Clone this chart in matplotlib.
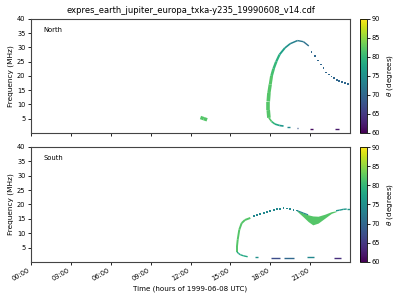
import numpy as np
import matplotlib
matplotlib.use("Agg")
import matplotlib.pyplot as plt
from matplotlib.collections import LineCollection
from matplotlib.colors import Normalize

title = "expres_earth_jupiter_europa_txka-y235_19990608_v14.cdf"
hour_ticks = [0, 3, 6, 9, 12, 15, 18, 21]
hour_labels = ["00:00", "03:00", "06:00", "09:00", "12:00", "15:00", "18:00", "21:00"]
freq_ticks = [5, 10, 15, 20, 25, 30, 35, 40]
theta_ticks = [60, 65, 70, 75, 80, 85, 90]

# North hemisphere: main arc (time h, freq MHz, theta deg, width)
n_arc_t = [17.9, 17.85, 17.85, 17.9, 18.0, 18.1, 18.25, 18.45, 18.7, 19.1, 19.5, 20.05, 20.5, 20.9]
n_arc_f = [5.3, 8, 11, 14, 17, 20, 22.5, 25, 27.5, 29.8, 31.3, 32.4, 32.0, 30.5]
n_arc_theta = [82, 82, 82, 82, 82, 81, 80, 79, 77, 75, 73, 72, 71, 70]
n_arc_w = [2.6, 2.6, 2.6, 2.4, 2.2, 2.0, 1.8, 1.6, 1.4, 1.2, 1.1, 1.0, 1.0, 0.9]

n_dots_t = [21.1, 21.35, 21.6, 21.8, 22.0, 22.2, 22.4, 22.6, 22.8, 23.0, 23.2, 23.4, 23.6, 23.85]
n_dots_f = [28.5, 27.0, 25.4, 24.0, 22.7, 21.2, 20.5, 19.8, 19.2, 18.6, 18.2, 17.8, 17.4, 17.1]
n_dots_theta = 70

n_tail_t = [17.9, 18.1, 18.35, 18.7, 19.0]
n_tail_f = [5.3, 4.0, 3.1, 2.6, 2.4]
n_tail_theta = [82, 80, 78, 76, 75]

n_blob_t = [12.75, 13.0, 13.25]
n_blob_f = [5.4, 5.0, 4.6]
n_blob_theta = 82

# dashes: (start h, end h, freq, theta)
n_dashes = [(19.25, 19.5, 2.1, 74), (20.0, 20.12, 1.8, 68), (21.0, 21.25, 1.5, 61), (22.85, 23.2, 1.2, 62)]

# South hemisphere
s_left_t = [15.5, 15.5, 15.55, 15.67, 15.85, 16.1, 16.5]
s_left_f = [3.5, 5.5, 7.7, 11.2, 13.5, 14.6, 15.3]
s_left_theta = 82

s_top_t = [16.8, 17.0, 17.25, 17.5, 17.75, 18.0, 18.25, 18.5, 18.75, 19.0, 19.25, 19.5, 19.75, 20.0]
s_top_f = [15.9, 16.3, 16.8, 17.1, 17.5, 17.8, 18.1, 18.3, 18.5, 18.7, 18.6, 18.4, 18.2, 17.9]
s_top_theta = 74

s_dip_t = [20.0, 20.5, 20.85, 21.2, 21.6, 22.1, 22.6, 22.95]
s_dip_hi = [17.9, 17.0, 16.4, 16.0, 15.9, 16.6, 17.5, 17.8]
s_dip_lo = [17.7, 15.6, 14.05, 12.9, 13.5, 15.2, 16.9, 17.5]
s_dip_theta = 82

s_right_t = [22.95, 23.2, 23.5, 23.75, 24.0]
s_right_f = [17.8, 18.0, 18.3, 18.4, 18.4]
s_right_theta = 76

s_tail_t = [15.5, 15.6, 15.75, 16.0, 16.3]
s_tail_f = [3.5, 3.0, 2.5, 2.1, 1.8]
s_tail_theta = 78

s_dashes = [(16.85, 17.05, 1.6, 75), (18.05, 18.7, 1.3, 67), (19.0, 19.8, 1.3, 70),
            (20.8, 21.3, 1.6, 74), (22.8, 23.35, 1.3, 64)]

cmap = plt.get_cmap("viridis")
norm = Normalize(vmin=60, vmax=90)


def draw_curve(ax, t, f, theta, width):
    pts = np.column_stack([t, f])
    segs = np.stack([pts[:-1], pts[1:]], axis=1)
    th = np.broadcast_to(np.asarray(theta, dtype=float), (len(t),))
    w = np.broadcast_to(np.asarray(width, dtype=float), (len(t),))
    lc = LineCollection(segs, colors=cmap(norm(th[:-1])), linewidths=w[:-1], capstyle="butt")
    ax.add_collection(lc)


def draw_dashes(ax, dashes):
    for t0, t1, f, th in dashes:
        ax.plot([t0, t1], [f, f], color=cmap(norm(th)), lw=1.0, solid_capstyle="butt")


fig = plt.figure(figsize=(4, 3), dpi=100)
ax1 = fig.add_axes([0.0775, 0.557, 0.7975, 0.38])
ax2 = fig.add_axes([0.0775, 0.127, 0.7975, 0.383])
cax1 = fig.add_axes([0.9, 0.557, 0.0175, 0.38])
cax2 = fig.add_axes([0.9, 0.127, 0.0175, 0.383])

# North
draw_curve(ax1, n_arc_t, n_arc_f, n_arc_theta, n_arc_w)
draw_curve(ax1, n_tail_t, n_tail_f, n_tail_theta, 1.2)
draw_curve(ax1, n_blob_t, n_blob_f, n_blob_theta, 2.5)
ax1.scatter(n_dots_t, n_dots_f, c=[n_dots_theta] * len(n_dots_t), cmap=cmap, norm=norm,
            marker="s", s=1.6, linewidths=0)
draw_dashes(ax1, n_dashes)

# South
draw_curve(ax2, s_left_t, s_left_f, s_left_theta, 1.4)
draw_curve(ax2, s_tail_t, s_tail_f, s_tail_theta, 1.0)
ax2.scatter(s_top_t, s_top_f, c=[s_top_theta] * len(s_top_t), cmap=cmap, norm=norm,
            marker="s", s=1.8, linewidths=0)
ax2.fill_between(s_dip_t, s_dip_lo, s_dip_hi, color=cmap(norm(s_dip_theta)), lw=0)
draw_curve(ax2, s_dip_t[:3], s_dip_hi[:3], s_top_theta, 0.8)
draw_curve(ax2, s_right_t, s_right_f, s_right_theta, 1.0)
draw_dashes(ax2, s_dashes)

for ax, name in [(ax1, "North"), (ax2, "South")]:
    ax.set_xlim(0, 24)
    ax.set_ylim(0, 40)
    ax.set_yticks(freq_ticks)
    ax.set_xticks(hour_ticks)
    ax.set_ylabel("Frequency (MHz)", fontsize=5.3, labelpad=2)
    ax.tick_params(labelsize=4.8, length=2.5, width=0.6, pad=1.5)
    ax.text(0.04, 0.9, name, transform=ax.transAxes, fontsize=4.9, va="center")
    for sp in ax.spines.values():
        sp.set_linewidth(0.8)
        sp.set_color("#444444")

ax1.set_xticklabels([])
ax2.set_xticklabels(hour_labels, rotation=30, ha="right")
ax2.set_xlabel("Time (hours of 1999-06-08 UTC)", fontsize=5.1, labelpad=2)
ax1.set_title(title, fontsize=6, pad=4)

sm = plt.cm.ScalarMappable(norm=norm, cmap=cmap)
for cax in [cax1, cax2]:
    cb = fig.colorbar(sm, cax=cax, ticks=theta_ticks)
    cb.set_label(r"$\theta$ (degrees)", fontsize=5.2, labelpad=3)
    cb.ax.tick_params(labelsize=4.8, length=2, width=0.6, pad=1.5)
    cb.outline.set_linewidth(0.6)

fig.savefig("out.png", dpi=100)
